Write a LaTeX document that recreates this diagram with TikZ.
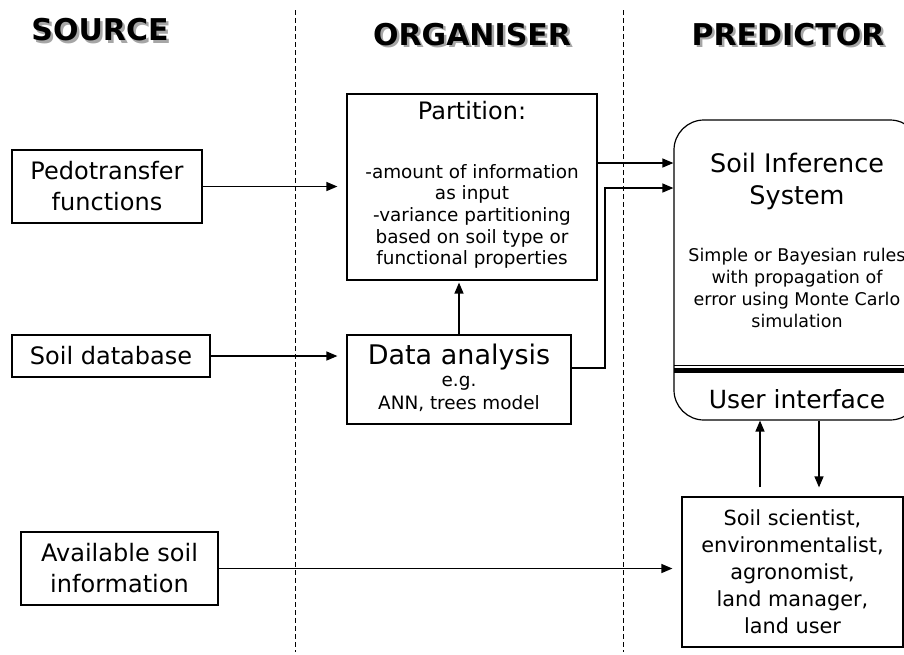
\documentclass[tikz,border=0pt]{standalone}
\usepackage{fontspec}
\setmainfont{DejaVu Sans}
\usetikzlibrary{arrows.meta}
\begin{document}
\begin{tikzpicture}[x=1pt,y=-1pt,
  box/.style={draw, line width=1.2pt, inner sep=0pt, align=center},
  arr/.style={-{Triangle[length=11pt,width=9pt]}, line width=1.3pt},
  sepline/.style={line width=0.8pt, dash pattern=on 5pt off 3pt},
  title/.style={font=\bfseries\fontsize{30}{30}\selectfont},
  shadowtitle/.style={title, text=black!35},
  big/.style={font=\fontsize{24}{31}\selectfont, align=center, inner sep=0pt},
  mid/.style={font=\fontsize{20.8}{27}\selectfont, align=center, inner sep=0pt},
  small/.style={font=\fontsize{18.4}{21.7}\selectfont, align=center, inner sep=0pt},
  head/.style={font=\fontsize{25}{32}\selectfont, align=center, inner sep=0pt}]
\useasboundingbox (0,0) rectangle (904,654);
\clip (0,0) rectangle (904,654);
\fill[white] (0,0) rectangle (904,654);

% separators
\coordinate (s1t) at (295,10);
\coordinate (s1b) at (295,652);
\coordinate (s2t) at (623,10);
\coordinate (s2b) at (623,652);
\draw[sepline] (s1t) -- (s1b);
\draw[sepline] (s2t) -- (s2b);

% titles
\node[shadowtitle] (tsrcs) at (102.5,32.5) {SOURCE};
\node[title] (tsrc) at (100,30) {SOURCE};
\node[shadowtitle] (torgs) at (474.5,37) {ORGANISER};
\node[title] (torg) at (472,34.5) {ORGANISER};
\node[shadowtitle] (tpreds) at (790.5,37) {PREDICTOR};
\node[title] (tpred) at (788,34.5) {PREDICTOR};

% source boxes
\node[box, big, minimum width=190pt, minimum height=73pt] (pedo) at (107,186.5) {Pedotransfer\\functions};
\node[box, big, minimum width=198pt, minimum height=42pt] (soil) at (111,356) {Soil database};
\node[box, big, minimum width=197pt, minimum height=73pt] (avail) at (119.5,568.5) {Available soil\\information};

% organiser
\node[box, minimum width=250pt, minimum height=186pt] (part) at (472,187) {};
\node[head, font=\fontsize{24}{32}\selectfont] (parthead) at (472,111) {Partition:};
\node[small] (partbody) at (472,216.5) {-amount of information\\as input\\-variance partitioning\\based on soil type or\\functional properties};

\node[box, minimum width=224pt, minimum height=89pt] (data) at (459,379.5) {};
\node[head, font=\fontsize{27}{32}\selectfont] (datahead) at (459,357) {Data analysis};
\node[small] (dataeg) at (459,383) {e.g.};
\node[small] (dataann) at (459,404) {ANN, trees model};

% predictor
\node[draw, line width=1.2pt, rounded corners=30pt, minimum width=246pt, minimum height=300pt, inner sep=0pt] (sis) at (797,270) {};
\draw[line width=1pt] (674,365) -- (920,365);
\draw[line width=5pt] (674,370.5) -- (920,370.5);
\node[head, font=\fontsize{25.5}{32}\selectfont] (sishead) at (797,181) {Soil Inference\\System};
\node[small, font=\fontsize{17.5}{22}\selectfont] (sisbody) at (797,288) {Simple or Bayesian rules\\with propagation of\\error using Monte Carlo\\simulation};
\node[head] (ui) at (797,399) {User interface};

\node[box, mid, minimum width=221pt, minimum height=150pt] (users) at (792.5,572) {Soil scientist,\\environmentalist,\\agronomist,\\land manager,\\land user};

% connectors
\draw[arr, shorten >=9pt] (pedo.east) -- (pedo.east -| part.west);
\draw[arr, shorten >=9pt] (soil.east) -- (soil.east -| data.west);
\draw[arr, shorten >=9pt] (avail.east) -- (avail.east -| users.west);
\draw[arr, shorten >=2pt] (data.north) -- (data.north |- part.south);
\draw[arr] ([yshift=24pt]part.east) coordinate (p1) -- (p1 -| sis.west);
\coordinate (bend) at (605,188);
\draw[arr] ([yshift=11.5pt]data.east) -| (bend) -- (bend -| sis.west);
\draw[arr] ([xshift=-32.5pt,yshift=9pt]users.north) coordinate (u1) -- (u1 |- sis.south);
\draw[arr, shorten >=9pt] ([xshift=22pt]sis.south) coordinate (u2) -- (u2 |- users.north);
\end{tikzpicture}
\end{document}
